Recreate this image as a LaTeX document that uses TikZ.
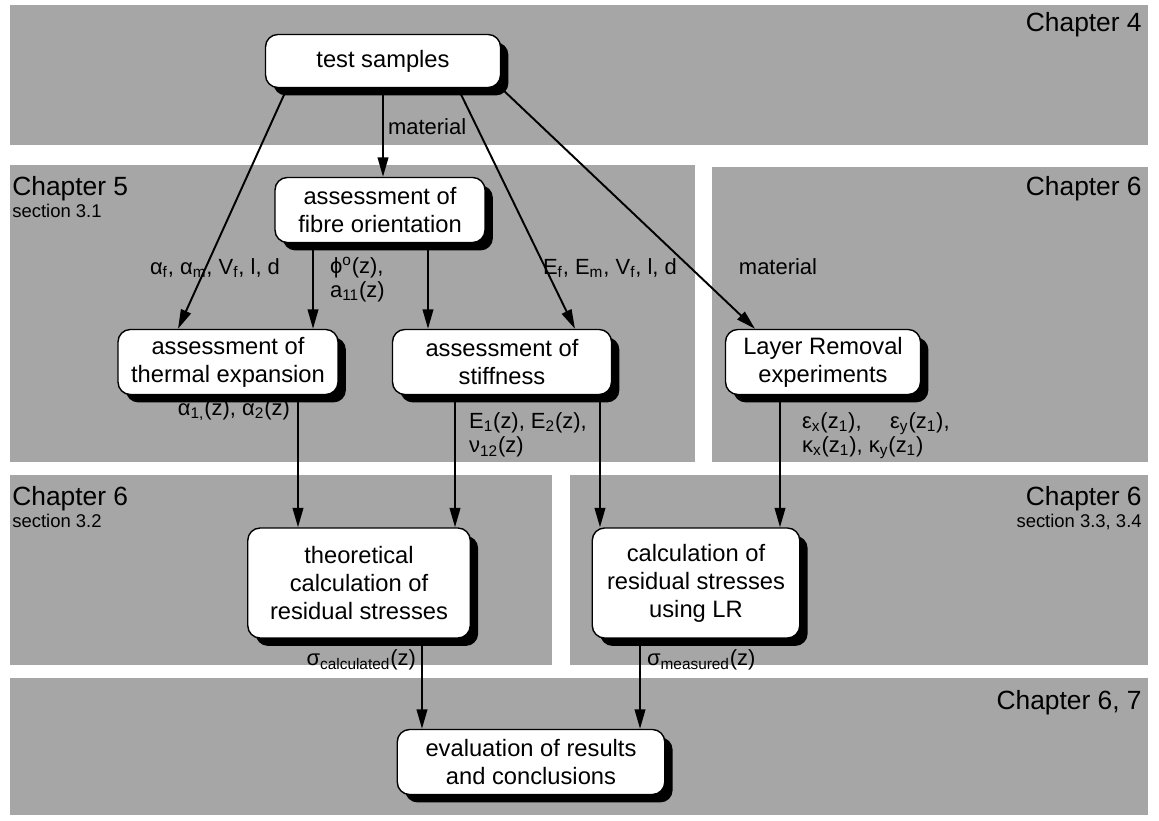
\documentclass[tikz,border=0pt]{standalone}
\usepackage{fontspec}
\setmainfont{Liberation Sans}
\usetikzlibrary{arrows.meta,shadows}

\newcommand{\lo}[1]{\textsubscript{#1}}

\tikzset{
  band/.style={fill=black!35},
  stage/.style={draw, line width=0.8pt, rounded corners=7pt, fill=white, align=center,
    font=\fontsize{13.5}{16}\selectfont,
    drop shadow={shadow xshift=4.5pt, shadow yshift=-4.5pt, fill=black, opacity=1}},
  arr/.style={line width=1.1pt, -{Triangle[length=11pt,width=6pt]}},
  lbl/.style={inner sep=1pt, align=left, font=\fontsize{12.5}{14}\selectfont},
  chap/.style={inner sep=0pt, font=\fontsize{15}{17}\selectfont},
  sect/.style={inner sep=0pt, font=\fontsize{10.5}{12}\selectfont}
}

\begin{document}
\begin{tikzpicture}[x=0.02cm, y=-0.02cm]
    \useasboundingbox (0,0) rectangle (1159,821);
    \fill[band] (10,5) rectangle (1148,145);
    \fill[band] (10,165) rectangle (695,462);
    \fill[band] (712,167) rectangle (1148,462);
    \fill[band] (10,475) rectangle (552,665);
    \fill[band] (570,475) rectangle (1148,665);
    \fill[band] (10,678) rectangle (1148,815);

    \node[chap, anchor=north east] (c4) at (1142,12) {Chapter 4};
    \node[chap, anchor=north west] (c5) at (12,176) {Chapter 5};
    \node[sect, anchor=north west] (s5) at (12,204) {section 3.1};
    \node[chap, anchor=north east] (c6a) at (1142,176) {Chapter 6};
    \node[chap, anchor=north west] (c6b) at (12,486) {Chapter 6};
    \node[sect, anchor=north west] (s6b) at (12,514) {section 3.2};
    \node[chap, anchor=north east] (c6c) at (1142,486) {Chapter 6};
    \node[sect, anchor=north east] (s6c) at (1142,514) {section 3.3, 3.4};
    \node[chap, anchor=north east] (c67) at (1142,690) {Chapter 6, 7};

    \node[stage, minimum width=4.7cm, minimum height=1.06cm] (ts) at (383,61) {test samples};
    \node[stage, minimum width=4.2cm, minimum height=1.3cm] (fo) at (380,210) {assessment of\\fibre orientation};
    \node[stage, minimum width=4.4cm, minimum height=1.3cm] (te) at (228,362) {assessment of\\thermal expansion};
    \node[stage, minimum width=4.38cm, minimum height=1.3cm] (st) at (502,362) {assessment of\\stiffness};
    \node[stage, minimum width=3.9cm, minimum height=1.3cm] (lr) at (823,362) {Layer Removal\\experiments};
    \node[stage, minimum width=4.45cm, minimum height=2.2cm] (tc) at (359,583) {theoretical\\calculation of\\residual stresses};
    \node[stage, minimum width=4.15cm, minimum height=2.2cm] (mc) at (696,583) {calculation of\\residual stresses\\using LR};
    \node[stage, minimum width=5.35cm, minimum height=1.3cm] (ev) at (531,762) {evaluation of results\\and conclusions};

    \draw[arr] ([xshift=-1.92cm]ts.south) -- ([xshift=-1cm]te.north);
    \draw[arr] (ts.south) -- (ts.south |- fo.north);
    \draw[arr] ([xshift=1.5cm]ts.south) -- ([xshift=1.46cm]st.north);
    \draw[arr] (ts.south east) -- ([xshift=-1.36cm]lr.north);
    \draw[arr] ([xshift=-1.34cm]fo.south) coordinate (f1) -- (f1 |- te.north);
    \draw[arr] ([xshift=0.96cm]fo.south) coordinate (f2) -- (f2 |- st.north);
    \draw[arr] ([xshift=1.4cm]te.south) coordinate (t1) -- (t1 |- tc.north);
    \draw[arr] ([xshift=-0.94cm]st.south) coordinate (s1) -- (s1 |- tc.north);
    \draw[arr] ([xshift=1.96cm]st.south) coordinate (s2) -- (s2 |- mc.north);
    \draw[arr] ([xshift=-0.86cm]lr.south) coordinate (l1) -- (l1 |- mc.north);
    \draw[arr] ([xshift=1.26cm]tc.south) coordinate (r1) -- (r1 |- ev.north);
    \draw[arr] ([xshift=-1.12cm]mc.south) coordinate (r2) -- (r2 |- ev.north);

    \node[lbl, anchor=west] (m1) at (386,127) {material};
    \node[lbl] (p1) at (215,268) {α\lo{f}, α\lo{m}, V\lo{f}, l, d};
    \node[lbl, anchor=north west] (p2) at (328,255) {ϕ\textsuperscript{o}(z),\\a\lo{11}(z)};
    \node[lbl] (p3) at (610,268) {E\lo{f}, E\lo{m}, V\lo{f}, l, d};
    \node[lbl] (m2) at (778,267) {material};
    \node[lbl, anchor=east] (p4) at (292,410) {α\lo{1,}(z), α\lo{2}(z)};
    \node[lbl, anchor=north west] (p5) at (467,410) {E\lo{1}(z), E\lo{2}(z),\\ν\lo{12}(z)};
    \node[lbl, anchor=north west] (p6) at (800,410) {ε\lo{x}(z\lo{1}),\hspace{1.3em}ε\lo{y}(z\lo{1}),\\κ\lo{x}(z\lo{1}), κ\lo{y}(z\lo{1})};
    \node[lbl, anchor=east] (p7) at (418,660) {σ\lo{calculated}(z)};
    \node[lbl, anchor=west] (p8) at (645,660) {σ\lo{measured}(z)};
\end{tikzpicture}
\end{document}
